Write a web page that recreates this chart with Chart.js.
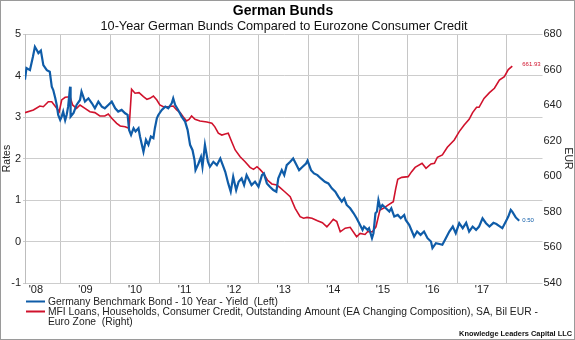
<!DOCTYPE html>
<html>
<head>
<meta charset="utf-8">
<script src="https://cdn.jsdelivr.net/npm/chart.js@4"></script>
<style>
  html, body { margin: 0; padding: 0; background: #fff; }
  #wrap { width: 575px; height: 340px; }
</style>
</head>
<body>
<div id="wrap"><canvas id="c" width="575" height="340"></canvas></div>
<script>
// ---- data (decimal years) ----
const bundDates = [2008.28,2008.31,2008.38,2008.44,2008.48,2008.52,2008.55,2008.60,2008.65,2008.72,2008.78,2008.82,2008.85,2008.89,2008.92,2008.95,2008.99,
2009.02,2009.05,2009.09,2009.12,2009.15,2009.19,2009.20,2009.26,2009.32,2009.39,2009.42,2009.49,2009.56,2009.63,2009.69,2009.76,2009.83,2009.89,2009.96,
2010.03,2010.10,2010.16,2010.23,2010.30,2010.35,2010.38,2010.42,2010.47,2010.51,2010.57,2010.60,2010.67,2010.72,2010.77,2010.82,2010.87,2010.90,2010.94,2010.97,
2011.04,2011.11,2011.17,2011.24,2011.27,2011.31,2011.37,2011.44,2011.51,2011.56,2011.61,2011.66,2011.70,2011.72,2011.78,2011.83,2011.86,2011.91,2011.97,
2012.01,2012.08,2012.15,2012.22,2012.27,2012.32,2012.38,2012.43,2012.48,2012.54,2012.59,2012.65,2012.70,2012.75,2012.80,2012.85,2012.92,2012.99,
2013.06,2013.10,2013.16,2013.22,2013.29,2013.35,2013.39,2013.46,2013.51,2013.56,2013.63,2013.69,2013.76,2013.81,2013.88,2013.95,2013.98,
2014.05,2014.11,2014.18,2014.25,2014.33,2014.40,2014.47,2014.54,2014.60,2014.67,2014.72,2014.77,2014.84,2014.91,2014.97,
2015.04,2015.09,2015.12,2015.19,2015.22,2015.28,2015.31,2015.35,2015.38,2015.41,2015.45,2015.49,2015.56,2015.63,2015.67,2015.73,2015.80,2015.86,2015.93,2015.96,
2016.03,2016.13,2016.19,2016.26,2016.33,2016.40,2016.47,2016.50,2016.57,2016.64,2016.70,2016.77,2016.84,2016.91,2016.97,
2017.04,2017.11,2017.18,2017.24,2017.31,2017.38,2017.44,2017.51,2017.58,2017.65,2017.73,2017.79,2017.85,2017.91,2017.98,
2018.03,2018.08,2018.11,2018.18,2018.25];
const bundYield = [3.90,4.18,4.13,4.45,4.69,4.61,4.54,4.60,4.25,4.13,4.09,3.73,3.65,3.46,3.29,3.05,2.93,
3.01,3.13,2.92,3.05,3.25,3.73,3.01,3.10,3.29,3.41,3.61,3.37,3.45,3.33,3.21,3.37,3.25,3.21,3.29,
3.37,3.21,3.13,3.17,3.09,3.05,2.69,2.57,2.73,2.65,2.73,2.53,2.16,2.45,2.33,2.53,2.49,2.73,2.97,3.05,
3.17,3.25,3.21,3.33,3.45,3.29,3.17,3.01,2.89,2.69,2.33,2.20,1.96,1.72,1.88,2.04,1.80,2.33,1.92,
1.80,1.92,1.84,2.00,1.84,1.68,1.40,1.20,1.56,1.24,1.44,1.52,1.36,1.60,1.48,1.36,1.44,1.32,
1.60,1.64,1.40,1.32,1.24,1.20,1.52,1.72,1.60,1.84,1.92,2.00,1.84,1.72,1.80,1.88,1.95,
1.72,1.64,1.60,1.52,1.44,1.40,1.28,1.20,1.08,0.96,1.04,0.88,0.80,0.68,0.56,
0.40,0.28,0.36,0.28,0.32,0.08,0.20,0.68,0.72,1.00,0.80,0.88,0.80,0.72,0.80,0.60,0.64,0.56,0.64,0.52,
0.40,0.12,0.24,0.16,0.24,0.08,0.00,-0.16,-0.04,-0.06,-0.08,0.08,0.24,0.36,0.20,
0.44,0.32,0.45,0.24,0.36,0.28,0.36,0.56,0.44,0.36,0.45,0.42,0.37,0.32,0.48,
0.60,0.76,0.72,0.58,0.50];

const creditDates = [2008.28,2008.45,2008.58,2008.65,2008.75,2008.82,2008.92,2008.97,
2009.02,2009.09,2009.19,2009.24,2009.32,2009.39,2009.49,2009.59,2009.69,2009.79,2009.89,2009.96,
2010.03,2010.13,2010.20,2010.30,2010.38,2010.43,2010.50,2010.58,2010.67,2010.74,2010.80,2010.87,2010.94,
2011.00,2011.07,2011.17,2011.27,2011.34,2011.41,2011.47,2011.54,2011.59,2011.64,2011.71,2011.81,2011.95,
2012.05,2012.11,2012.18,2012.25,2012.32,2012.38,2012.45,2012.52,2012.62,2012.72,2012.82,2012.89,2012.96,
2013.02,2013.09,2013.17,2013.26,2013.36,2013.42,2013.52,2013.63,2013.73,2013.83,2013.90,2013.97,
2014.07,2014.18,2014.28,2014.37,2014.43,2014.50,2014.57,2014.64,2014.74,2014.84,2014.97,
2015.04,2015.14,2015.19,2015.29,2015.36,2015.44,2015.51,2015.61,2015.71,2015.76,2015.80,2015.88,
2016.01,2016.08,2016.15,2016.29,2016.37,2016.47,2016.54,2016.60,2016.70,2016.80,2016.94,
2017.04,2017.14,2017.24,2017.31,2017.39,2017.44,2017.54,2017.65,2017.75,2017.85,2017.95,
2018.03,2018.11];
const creditValues = [635.8,637.3,639.5,639.1,641.9,641.9,638.2,636.3,
642.9,644.4,644.7,640.1,638.2,640.1,638.2,636.3,635.8,633.9,633.9,635.0,
632.6,629.8,628.3,627.9,627.0,648.9,646.7,647.0,644.8,643.3,643.8,645.1,642.9,
640.1,639.1,639.1,639.5,637.3,635.8,633.5,631.1,632.0,633.9,632.0,631.1,630.5,
629.8,627.8,624.2,623.2,623.8,624.2,619.4,614.8,611.0,608.2,605.0,603.9,605.4,
603.9,601.7,597.9,595.7,595.1,593.8,591.3,588.5,582.0,577.3,576.4,576.9,
576.4,575.0,573.9,571.6,573.5,575.8,574.5,568.8,570.8,571.3,566.0,
567.9,567.3,568.8,568.8,571.6,581.0,582.0,583.9,585.7,593.2,598.3,599.4,
599.8,602.6,605.0,607.3,604.5,606.9,607.3,610.7,612.0,616.3,620.4,
625.1,628.8,632.0,635.8,638.8,638.8,643.8,647.0,649.5,654.1,656.0,
660.0,661.93];

const yearLabels = ["'08","'09","'10","'11","'12","'13","'14","'15","'16","'17"];
const gridYears = [2009,2010,2011,2012,2013,2014,2015,2016,2017,2018];
const leftTicks = [-1,0,1,2,3,4,5];
const rightTicks = [540,560,580,600,620,640,660,680];

const titleText = 'German Bunds';
const subtitleText = '10-Year German Bunds Compared to Eurozone Consumer Credit';
const legendBund = 'Germany Benchmark Bond - 10 Year - Yield  (Left)';
const legendCredit1 = 'MFI Loans, Households, Consumer Credit, Outstanding Amount (EA Changing Composition), SA, Bil EUR -';
const legendCredit2 = 'Euro Zone  (Right)';
const sourceText = 'Knowledge Leaders Capital LLC';

const BLUE = '#0f5ca8';
const RED = '#d0122c';
const FONT = "'Liberation Sans', Arial, sans-serif";

const bundData = bundDates.map((d, i) => ({x: d, y: bundYield[i]}));
const creditData = creditDates.map((d, i) => ({x: d, y: creditValues[i]}));

const decor = {
  id: 'decor',
  beforeDraw(chart) {
    const ctx = chart.ctx;
    ctx.save();
    ctx.fillStyle = '#fff';
    ctx.fillRect(0, 0, chart.width, chart.height);
    ctx.restore();
  },
  afterDraw(chart) {
    const ctx = chart.ctx;
    ctx.save();
    // titles
    ctx.fillStyle = '#000';
    ctx.textAlign = 'center';
    ctx.textBaseline = 'middle';
    ctx.font = 'bold 14px ' + FONT;
    ctx.fillText(titleText, 283, 11);
    ctx.font = '12.7px ' + FONT;
    ctx.fillStyle = '#111';
    ctx.fillText(subtitleText, 284, 26);

    // end value labels
    const xs = chart.scales.x, y1 = chart.scales.y, y2 = chart.scales.y2;
    const lx = xs.getPixelForValue(bundDates[bundDates.length - 1]) + 3;
    ctx.textAlign = 'left';
    ctx.font = '6px ' + FONT;
    ctx.fillStyle = RED;
    ctx.fillText(creditValues[creditValues.length - 1].toFixed(2), lx, y2.getPixelForValue(creditValues[creditValues.length - 1]) - 2);
    ctx.fillStyle = BLUE;
    ctx.fillText(bundYield[bundYield.length - 1].toFixed(2), lx, y1.getPixelForValue(bundYield[bundYield.length - 1]));

    // legend
    ctx.font = '10.3px ' + FONT;
    ctx.fillStyle = '#222';
    ctx.lineWidth = 2;
    ctx.strokeStyle = BLUE;
    ctx.beginPath(); ctx.moveTo(26, 301.5); ctx.lineTo(45, 301.5); ctx.stroke();
    ctx.strokeStyle = RED;
    ctx.beginPath(); ctx.moveTo(26, 311.5); ctx.lineTo(45, 311.5); ctx.stroke();
    ctx.fillText(legendBund, 48, 302);
    ctx.fillText(legendCredit1, 48, 312);
    ctx.fillText(legendCredit2, 48, 322);

    // source
    ctx.textAlign = 'right';
    ctx.font = 'bold 7.4px ' + FONT;
    ctx.fillStyle = '#111';
    ctx.fillText(sourceText, 572, 334);

    // frame
    ctx.strokeStyle = '#9a9a9a';
    ctx.lineWidth = 1;
    ctx.strokeRect(0.5, 0.5, chart.width - 1, chart.height - 1);
    ctx.restore();
  }
};

new Chart(document.getElementById('c'), {
  type: 'line',
  data: {
    datasets: [
      { label: legendBund, data: bundData, yAxisID: 'y', borderColor: BLUE, borderWidth: 2.2,
        pointRadius: 0, tension: 0, fill: false },
      { label: legendCredit1 + ' ' + legendCredit2, data: creditData, yAxisID: 'y2', borderColor: RED,
        borderWidth: 1.6, pointRadius: 0, tension: 0, fill: false }
    ]
  },
  options: {
    responsive: false,
    animation: false,
    devicePixelRatio: 1,
    layout: { padding: { top: 34, bottom: 40, left: 0, right: 0 } },
    plugins: { legend: { display: false }, title: { display: false }, tooltip: { enabled: false } },
    scales: {
      x: {
        type: 'linear',
        min: 2008.28,
        max: 2018.72,
        afterBuildTicks(scale) {
          const t = [];
          yearLabels.forEach((l, i) => t.push({ value: 2008.5 + i }));
          gridYears.forEach(v => t.push({ value: v }));
          t.sort((a, b) => a.value - b.value);
          scale.ticks = t;
        },
        afterFit(scale) { scale.height = 17; },
        grid: {
          drawTicks: false,
          color: ctx => (ctx.tick && Number.isInteger(ctx.tick.value)) ? '#c6c6c6' : 'rgba(0,0,0,0)',
          lineWidth: 1
        },
        border: { display: false },
        ticks: {
          padding: 0,
          autoSkip: false,
          maxRotation: 0,
          color: '#222',
          font: { family: FONT, size: 11 },
          callback: v => Number.isInteger(v) ? '' : yearLabels[Math.round(v - 2008.5)]
        }
      },
      y: {
        position: 'left',
        min: -1, max: 5,
        afterBuildTicks(scale) { scale.ticks = leftTicks.map(v => ({ value: v })); },
        afterFit(scale) { scale.width = 25; },
        grid: { color: '#cdcdcd', lineWidth: 1, drawTicks: true, tickLength: 2 },
        border: { display: true, color: '#bdbdbd' },
        ticks: { padding: 2, color: '#222', font: { family: FONT, size: 11 } },
        title: { display: true, text: 'Rates', color: '#222', padding: { top: 1, bottom: 0 },
                 font: { family: FONT, size: 10.5 } }
      },
      y2: {
        position: 'right',
        min: 540, max: 680,
        afterBuildTicks(scale) { scale.ticks = rightTicks.map(v => ({ value: v })); },
        afterFit(scale) { scale.width = 32.5; },
        grid: { drawOnChartArea: false, drawTicks: false },
        border: { display: false },
        ticks: { padding: 1, color: '#222', font: { family: FONT, size: 11 } },
        title: { display: true, text: 'EUR', color: '#222', padding: { top: 1, bottom: 0 },
                 font: { family: FONT, size: 10.5 } }
      }
    }
  },
  plugins: [decor]
});
</script>
</body>
</html>
